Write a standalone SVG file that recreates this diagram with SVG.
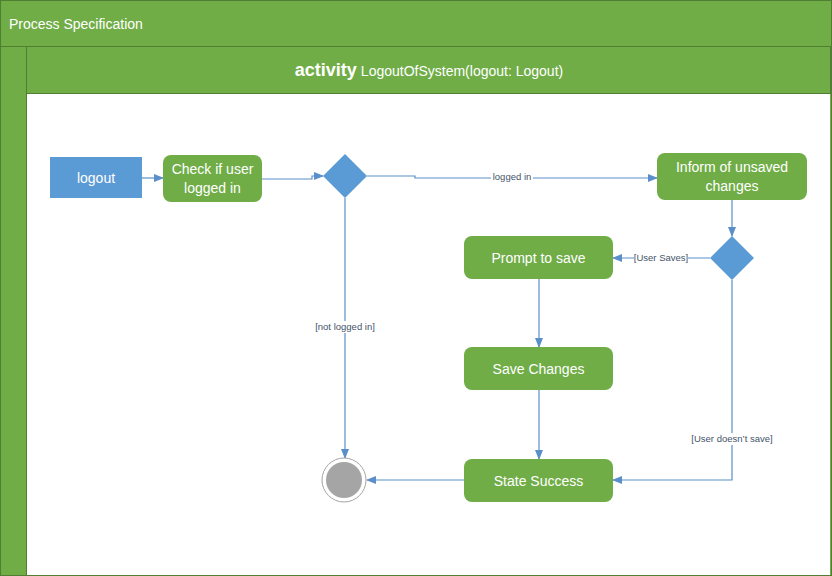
<svg xmlns="http://www.w3.org/2000/svg" width="832" height="576" viewBox="0 0 832 576">
<defs>
<style>
.frame{fill:#70AD47;stroke:#507E32;stroke-width:1}
.act{fill:#70AD47}
.obj{fill:#5B9BD5}
.dec{fill:#5B9BD5}
.t{font-family:"Liberation Sans",Arial,sans-serif;fill:#FFFFFF;font-size:14px;text-anchor:middle}
.lbl{font-family:"Liberation Sans",Arial,sans-serif;fill:#44546A;font-size:9.5px;text-anchor:middle}
.c{fill:none;stroke:#5B8FC9;stroke-width:1.2;marker-end:url(#ah)}
.lb{fill:#FFFFFF}
</style>
<marker id="ah" markerWidth="10" markerHeight="8" refX="9" refY="4" orient="auto" markerUnits="userSpaceOnUse">
<path d="M0,0 L10,4 L0,8 Z" fill="#5B8FC9"/>
</marker>
</defs>
<rect x="0" y="0" width="832" height="576" fill="#FFFFFF"/>
<g id="frame">
<rect class="frame" x="0.5" y="0.5" width="831" height="575"/>
<rect class="frame" x="0.5" y="0.5" width="831" height="46"/>
<rect class="frame" x="26.5" y="46.5" width="804" height="47"/>
<rect x="27" y="94" width="803" height="481" fill="#FFFFFF"/>
<line x1="26.5" y1="94" x2="26.5" y2="576" stroke="#507E32"/>
<text x="9" y="29" font-family="Liberation Sans,Arial,sans-serif" font-size="14" fill="#FFFFFF">Process Specification</text>
<text x="429" y="76" font-family="Liberation Sans,Arial,sans-serif" fill="#FFFFFF" text-anchor="middle"><tspan font-size="18" font-weight="bold">activity</tspan><tspan font-size="14" dx="4">LogoutOfSystem(logout: Logout)</tspan></text>
</g>
<g id="connectors">
<path class="c" d="M142,178 L163,178"/>
<path class="c" d="M262,179 L312,179 L312,176 L323,176"/>
<path class="c" d="M367,176 L415,176 L415,178 L657,178"/>
<path class="c" d="M345,198 L345,458"/>
<path class="c" d="M732,200 L732,236"/>
<path class="c" d="M710,258 L613,258"/>
<path class="c" d="M539,279 L539,347"/>
<path class="c" d="M539,390 L539,459"/>
<path class="c" d="M732,280 L732,480 L613,480"/>
<path class="c" d="M464,480 L367,480"/>
<rect class="lb" x="491" y="171" width="42" height="12"/>
<text class="lbl" x="512" y="180">logged in</text>
<rect class="lb" x="313" y="321" width="64" height="12"/>
<text class="lbl" x="345" y="330">[not logged in]</text>
<rect class="lb" x="634" y="252" width="54" height="12"/>
<text class="lbl" x="661" y="261">[User Saves]</text>
<rect class="lb" x="690" y="433" width="84" height="12"/>
<text class="lbl" x="732" y="442">[User doesn’t save]</text>
</g>
<g id="logout">
<rect class="obj" x="50" y="157" width="92" height="41"/>
<text class="t" x="96" y="183">logout</text>
</g>
<g id="check">
<rect class="act" x="163" y="155" width="99" height="47" rx="8"/>
<text class="t" x="212.5" y="174">Check if user</text>
<text class="t" x="212.5" y="193">logged in</text>
</g>
<g id="decision1">
<polygon class="dec" points="345,154 367,176 345,198 323,176"/>
</g>
<g id="inform">
<rect class="act" x="657" y="153" width="150" height="47" rx="8"/>
<text class="t" x="732" y="172">Inform of unsaved</text>
<text class="t" x="732" y="191">changes</text>
</g>
<g id="decision2">
<polygon class="dec" points="732,236 754,258 732,280 710,258"/>
</g>
<g id="prompt">
<rect class="act" x="464" y="236" width="149" height="43" rx="8"/>
<text class="t" x="538.5" y="263">Prompt to save</text>
</g>
<g id="save">
<rect class="act" x="464" y="347" width="149" height="43" rx="8"/>
<text class="t" x="538.5" y="374">Save Changes</text>
</g>
<g id="success">
<rect class="act" x="464" y="459" width="149" height="43" rx="8"/>
<text class="t" x="538.5" y="486">State Success</text>
</g>
<g id="final">
<circle cx="344" cy="480" r="22" fill="#FFFFFF" stroke="#A5A5A5" stroke-width="1"/>
<circle cx="344" cy="480" r="18" fill="#A5A5A5"/>
</g>
</svg>
